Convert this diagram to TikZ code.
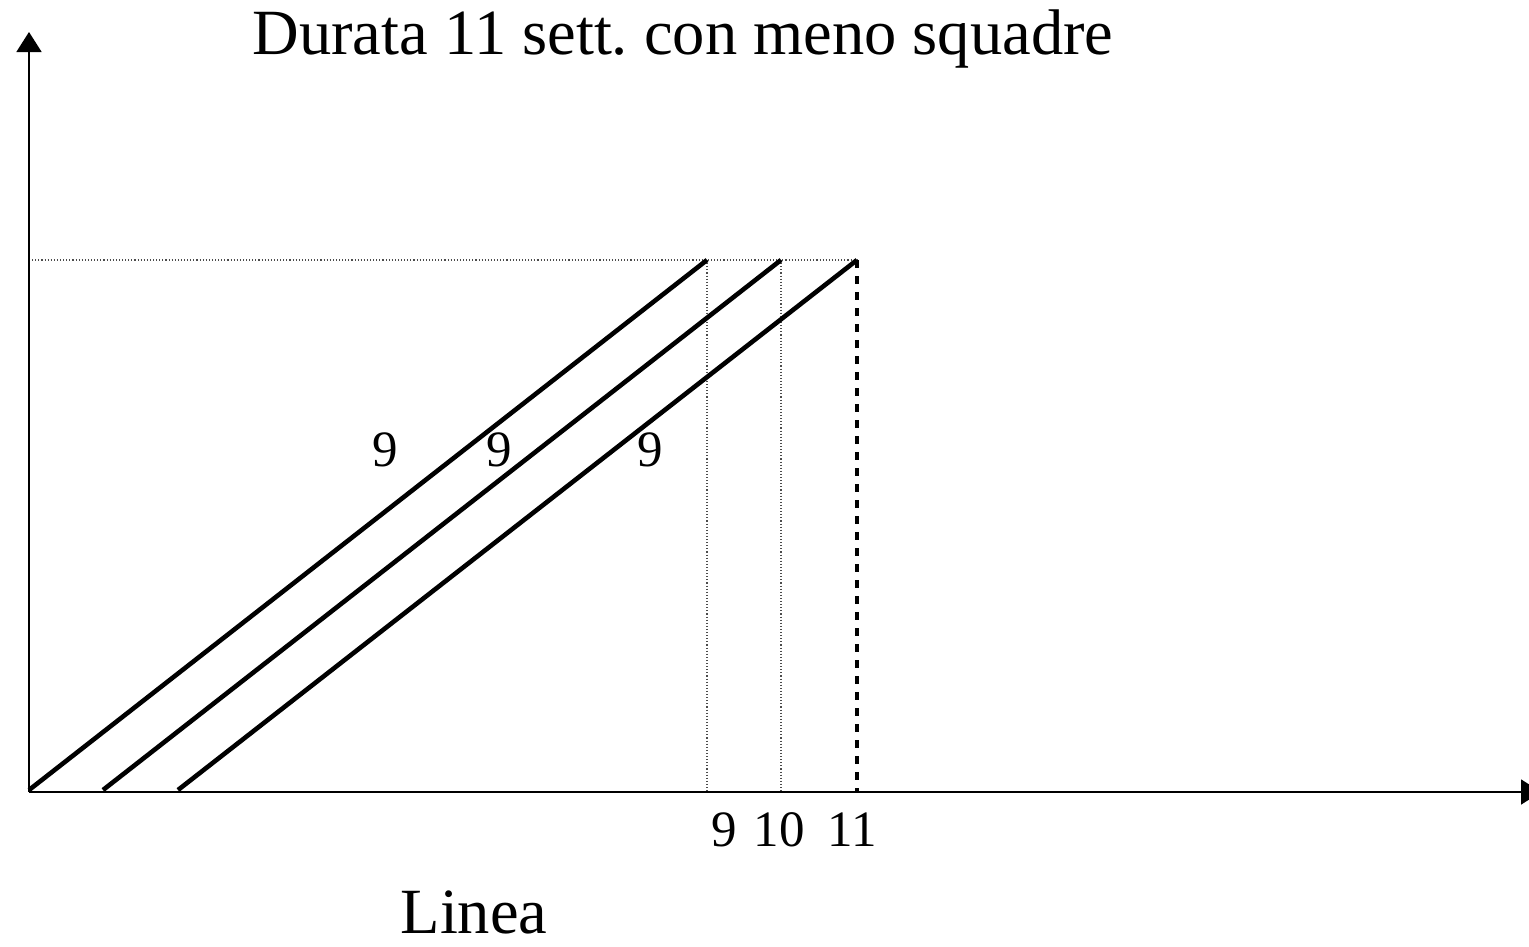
\documentclass[tikz,border=0pt]{standalone}
\usepackage{fontspec}
\setmainfont{Liberation Serif}
\usetikzlibrary{arrows.meta}
\begin{document}
\begin{tikzpicture}[x=1pt,y=-1pt,
  axis/.style={line width=1.7pt,-{Triangle[width=25pt,length=20pt]}},
  bar/.style={line width=4.6pt},
  guide/.style={line width=1.1pt,dotted,gray!60!black},
  dashguide/.style={line width=3.2pt,dash pattern=on 8pt off 8pt},
  lbl/.style={inner sep=0pt,font=\fontsize{51}{60}\selectfont},
  big/.style={inner sep=0pt,font=\fontsize{64.5}{72}\selectfont}]
\useasboundingbox (0,0) rectangle (1529,946);
\clip (0,0) rectangle (1529,946);
\coordinate (O) at (29,792);
\coordinate (ytop) at (29,32);
\coordinate (xend) at (1541,792);
\coordinate (a0) at (29,790);
\coordinate (b0) at (103,790);
\coordinate (c0) at (178,790);
\coordinate (a1) at (707,260);
\coordinate (b1) at (781,260);
\coordinate (c1) at (857,260);
\coordinate (yl) at (29,260);
\coordinate (a2) at (707,792);
\coordinate (b2) at (781,792);
\coordinate (c2) at (857,792);
\draw[guide] (yl) -- (c1);
\draw[guide] (a1) -- (a2);
\draw[guide] (b1) -- (b2);
\draw[dashguide] (c1) -- (c2);
\draw[axis] (O) -- (ytop);
\draw[axis] (O) -- (xend);
\draw[bar] (a0) -- (a1);
\draw[bar] (b0) -- (b1);
\draw[bar] (c0) -- (c1);
\node[big] (title) at (683,39) {Durata 11 sett.\ con meno squadre};
\node[lbl] (n1) at (385,450) {9};
\node[lbl] (n2) at (499,450) {9};
\node[lbl] (n3) at (650,450) {9};
\node[lbl] (t9) at (724,830) {9};
\node[lbl] (t10) at (779,830) {10};
\node[lbl] (t11) at (852,830) {11};
\node[big] (xl) at (474,912) {Linea};
\end{tikzpicture}
\end{document}
